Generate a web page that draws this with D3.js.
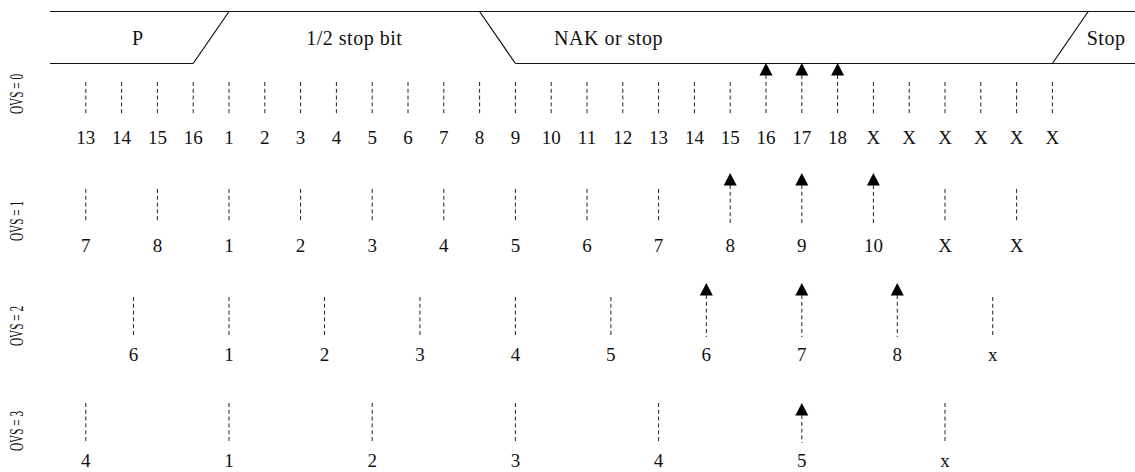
<!DOCTYPE html>
<html>
<head>
<meta charset="utf-8">
<script src="https://cdn.jsdelivr.net/npm/d3@7"></script>
<style>
  body { margin: 0; background: #fff; }
  svg { display: block; }
  text { font-family: "Liberation Serif", "Times New Roman", serif; fill: #111; }
</style>
</head>
<body>
<svg id="chart" width="1135" height="472"></svg>
<script>
// Rows: one per oversampling setting
const ovsNames = ["OVS = 0", "OVS = 1", "OVS = 2", "OVS = 3"];

// Sample labels, left to right
const ovs0Labels = ["13", "14", "15", "16", "1", "2", "3", "4", "5", "6", "7", "8", "9", "10",
    "11", "12", "13", "14", "15", "16", "17", "18", "X", "X", "X", "X", "X", "X"];
const ovs1Labels = ["7", "8", "1", "2", "3", "4", "5", "6", "7", "8", "9", "10", "X", "X"];
const ovs2Labels = ["6", "1", "2", "3", "4", "5", "6", "7", "8", "x"];
const ovs3Labels = ["4", "1", "2", "3", "4", "5", "x"];

// Samples drawn as arrows (index into the label list)
const ovs0Arrows = [19, 20, 21];
const ovs1Arrows = [9, 10, 11];
const ovs2Arrows = [6, 7, 8];
const ovs3Arrows = [5];

// Sample period (in OVS = 0 samples) and how many samples come before "1"
const ovsPeriod = [1, 2, 8 / 3, 4];
const ovsLead = [4, 2, 1, 1];

// Bus line on top (times in OVS = 0 samples, 0 = sample "1")
const busFields = ["P", "1/2 stop bit", "NAK or stop", "Stop"];
const busLabelAt = [-2.55, 3.5, 10.6, 24.5];
const busEdges = [-1, 7, 23];          // where each transition starts
const busEdgeRise = [true, false, true];
const busLowSpans = [[-5, -1], [8, null]];
const busStart = -5;

const rowLabels = [ovs0Labels, ovs1Labels, ovs2Labels, ovs3Labels];
const rowArrows = [ovs0Arrows, ovs1Arrows, ovs2Arrows, ovs3Arrows];

// vertical layout of every row
const rowLayout = [
    { top: 82, bottom: 115, base: 144, tip: 63, name: 94 },
    { top: 189, bottom: 223, base: 252, tip: 173, name: 221 },
    { top: 297, bottom: 337, base: 361, tip: 283, name: 326 },
    { top: 403, bottom: 443, base: 467, tip: 403, name: 431 }
];

const width = 1135, height = 472;
const svg = d3.select("#chart");

const x = d3.scaleLinear()
    .domain([0, 16])
    .range([229, 801.8]);

const busHigh = 11.5, busLow = 63.5;

// Bus
const bus = svg.append("g")
    .attr("fill", "none")
    .attr("stroke", "#111")
    .attr("stroke-width", 1.2);

bus.append("line")
    .attr("x1", x(busStart)).attr("x2", width)
    .attr("y1", busHigh).attr("y2", busHigh);

bus.selectAll("line.low")
    .data(busLowSpans)
    .join("line")
        .attr("class", "low")
        .attr("x1", d => x(d[0]))
        .attr("x2", d => d[1] === null ? width : x(d[1]))
        .attr("y1", busLow).attr("y2", busLow);

bus.selectAll("line.edge")
    .data(busEdges)
    .join("line")
        .attr("class", "edge")
        .attr("x1", d => x(d))
        .attr("x2", d => x(d + 1))
        .attr("y1", (d, i) => busEdgeRise[i] ? busLow : busHigh)
        .attr("y2", (d, i) => busEdgeRise[i] ? busHigh : busLow);

svg.append("g")
    .selectAll("text")
    .data(busFields)
    .join("text")
        .attr("x", (d, i) => x(busLabelAt[i]))
        .attr("y", 45)
        .attr("text-anchor", "middle")
        .style("font-size", "20px")
        .style("letter-spacing", "0.5px")
        .text(d => d);

// Sample rows
rowLabels.forEach((labels, r) => {
    const lay = rowLayout[r];
    const samples = labels.map((label, i) => ({
        label,
        t: (i - ovsLead[r]) * ovsPeriod[r],
        arrow: rowArrows[r].includes(i)
    }));

    const g = svg.append("g").attr("class", "row");

    g.append("text")
        .attr("transform", `translate(22.5, ${lay.name}) rotate(-90)`)
        .attr("text-anchor", "middle")
        .attr("textLength", 40)
        .attr("lengthAdjust", "spacingAndGlyphs")
        .style("font-size", "18px")
        .text(ovsNames[r]);

    g.selectAll("line.sample")
        .data(samples)
        .join("line")
            .attr("class", "sample")
            .attr("x1", d => x(d.t)).attr("x2", d => x(d.t))
            .attr("y1", d => d.arrow ? lay.tip + 12 : lay.top)
            .attr("y2", lay.bottom)
            .attr("stroke", "#222")
            .attr("stroke-width", 1)
            .attr("stroke-dasharray", "4,2.8");

    g.selectAll("path.head")
        .data(samples.filter(d => d.arrow))
        .join("path")
            .attr("class", "head")
            .attr("d", d => {
                const cx = x(d.t);
                return `M${cx},${lay.tip}L${cx - 6.5},${lay.tip + 12.5}L${cx + 6.5},${lay.tip + 12.5}Z`;
            })
            .attr("fill", "#000");

    g.selectAll("text.num")
        .data(samples)
        .join("text")
            .attr("class", "num")
            .attr("x", d => x(d.t))
            .attr("y", lay.base)
            .attr("text-anchor", "middle")
            .style("font-size", "19px")
            .text(d => d.label);
});
</script>
</body>
</html>
